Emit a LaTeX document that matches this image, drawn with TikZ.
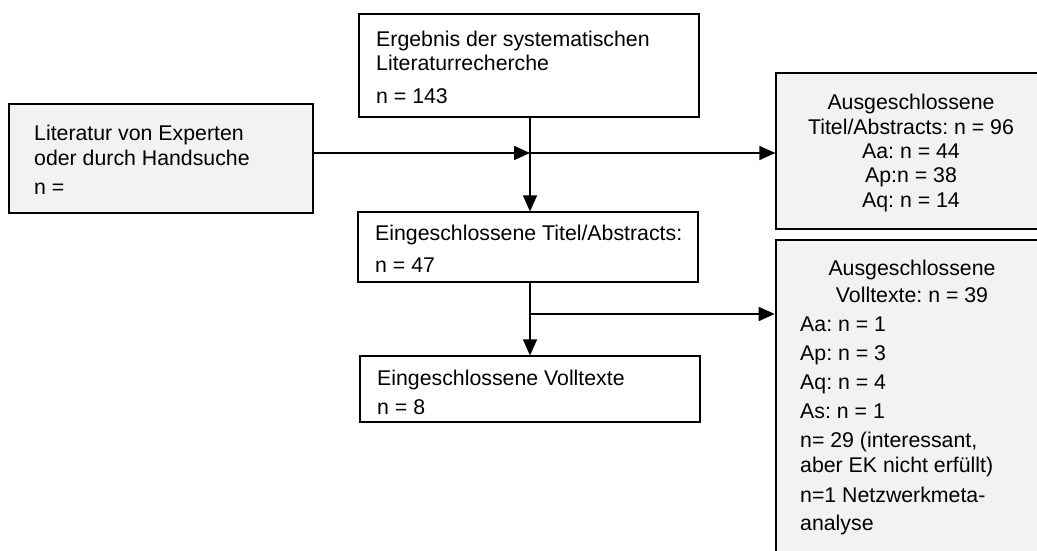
\documentclass[tikz,border=0pt]{standalone}
\usepackage{fontspec}
\setmainfont{Liberation Sans}
\usetikzlibrary{arrows.meta}
\definecolor{boxgray}{HTML}{F2F2F2}
\frenchspacing
\tikzset{
  box/.style={draw=black, line width=1.2pt, rectangle, inner sep=0pt},
  graybox/.style={box, fill=boxgray},
  thickbox/.style={graybox, line width=2.6pt},
  txt/.style={inner sep=0pt, anchor=base west, font=\fontsize{21.3}{24}\selectfont\frenchspacing},
  ctxt/.style={inner sep=0pt, anchor=base, font=\fontsize{21.3}{24}\selectfont\frenchspacing},
  conn/.style={line width=1.5pt, -{Triangle[length=16pt,width=14pt]}},
  plain/.style={line width=1.5pt}
}
\begin{document}
\begin{tikzpicture}[x=1pt,y=-1pt]
\useasboundingbox (0,0) rectangle (1037,551);
\clip (0,0) rectangle (1037,551);
% boxes
\node[box, minimum width=340pt, minimum height=103pt] (top) at (529,65.5) {};
\node[graybox, minimum width=304pt, minimum height=109pt] (lit) at (161,158.5) {};
\node[box, minimum width=340pt, minimum height=70pt] (incl1) at (528,247) {};
\node[box, minimum width=340pt, minimum height=66pt] (incl2) at (530,389) {};
\node[graybox, minimum width=270pt, minimum height=156pt] (excl1) at (911,151) {};
\node[thickbox, minimum width=270pt, minimum height=330pt] (excl2) at (911,405) {};
% texts
\node[txt] (t1) at (376,47) {Ergebnis der systematischen};
\node[txt] (t2) at (376,71) {Literaturrecherche};
\node[txt] (t3) at (376,103) {n = 143};
\node[txt] (l1) at (34,140) {Literatur von Experten};
\node[txt] (l2) at (34,165) {oder durch Handsuche};
\node[txt] (l3) at (34,194) {n =};
\node[txt] (i1) at (375,240) {Eingeschlossene Titel/Abstracts:};
\node[txt] (i2) at (375,272) {n = 47};
\node[txt] (v1) at (377,385) {Eingeschlossene Volltexte};
\node[txt] (v2) at (377,414) {n = 8};
\node[ctxt] (e1) at (911,110) {Ausgeschlossene};
\node[ctxt] (e2) at (911,134) {Titel/Abstracts: n = 96};
\node[ctxt] (e3) at (911,158) {Aa: n = 44};
\node[ctxt] (e4) at (911,182) {Ap:n = 38};
\node[ctxt] (e5) at (911,207) {Aq: n = 14};
\node[ctxt] (f1) at (912,275) {Ausgeschlossene};
\node[ctxt] (f2) at (912,302) {Volltexte: n = 39};
\node[txt] (f3) at (800,331) {Aa: n = 1};
\node[txt] (f4) at (800,360) {Ap: n = 3};
\node[txt] (f5) at (800,389) {Aq: n = 4};
\node[txt] (f6) at (800,418) {As: n = 1};
\node[txt] (f7) at (800,447) {n= 29 (interessant,};
\node[txt] (f8) at (800,472) {aber EK nicht erfüllt)};
\node[txt] (f9) at (800,502) {n=1 Netzwerkmeta-};
\node[txt] (f10) at (800,530) {analyse};
% connectors
\coordinate (j1) at (530,153);
\coordinate (j2) at (530,314);
\draw[conn] (lit.east |- j1) -- (j1);
\draw[conn] (top.south -| j1) -- (incl1.north -| j1);
\draw[conn] (j1) -- (excl1.west |- j1);
\draw[conn] (incl1.south -| j2) -- (incl2.north -| j2);
\draw[conn] (j2) -- (excl2.west |- j2);
\end{tikzpicture}
\end{document}
